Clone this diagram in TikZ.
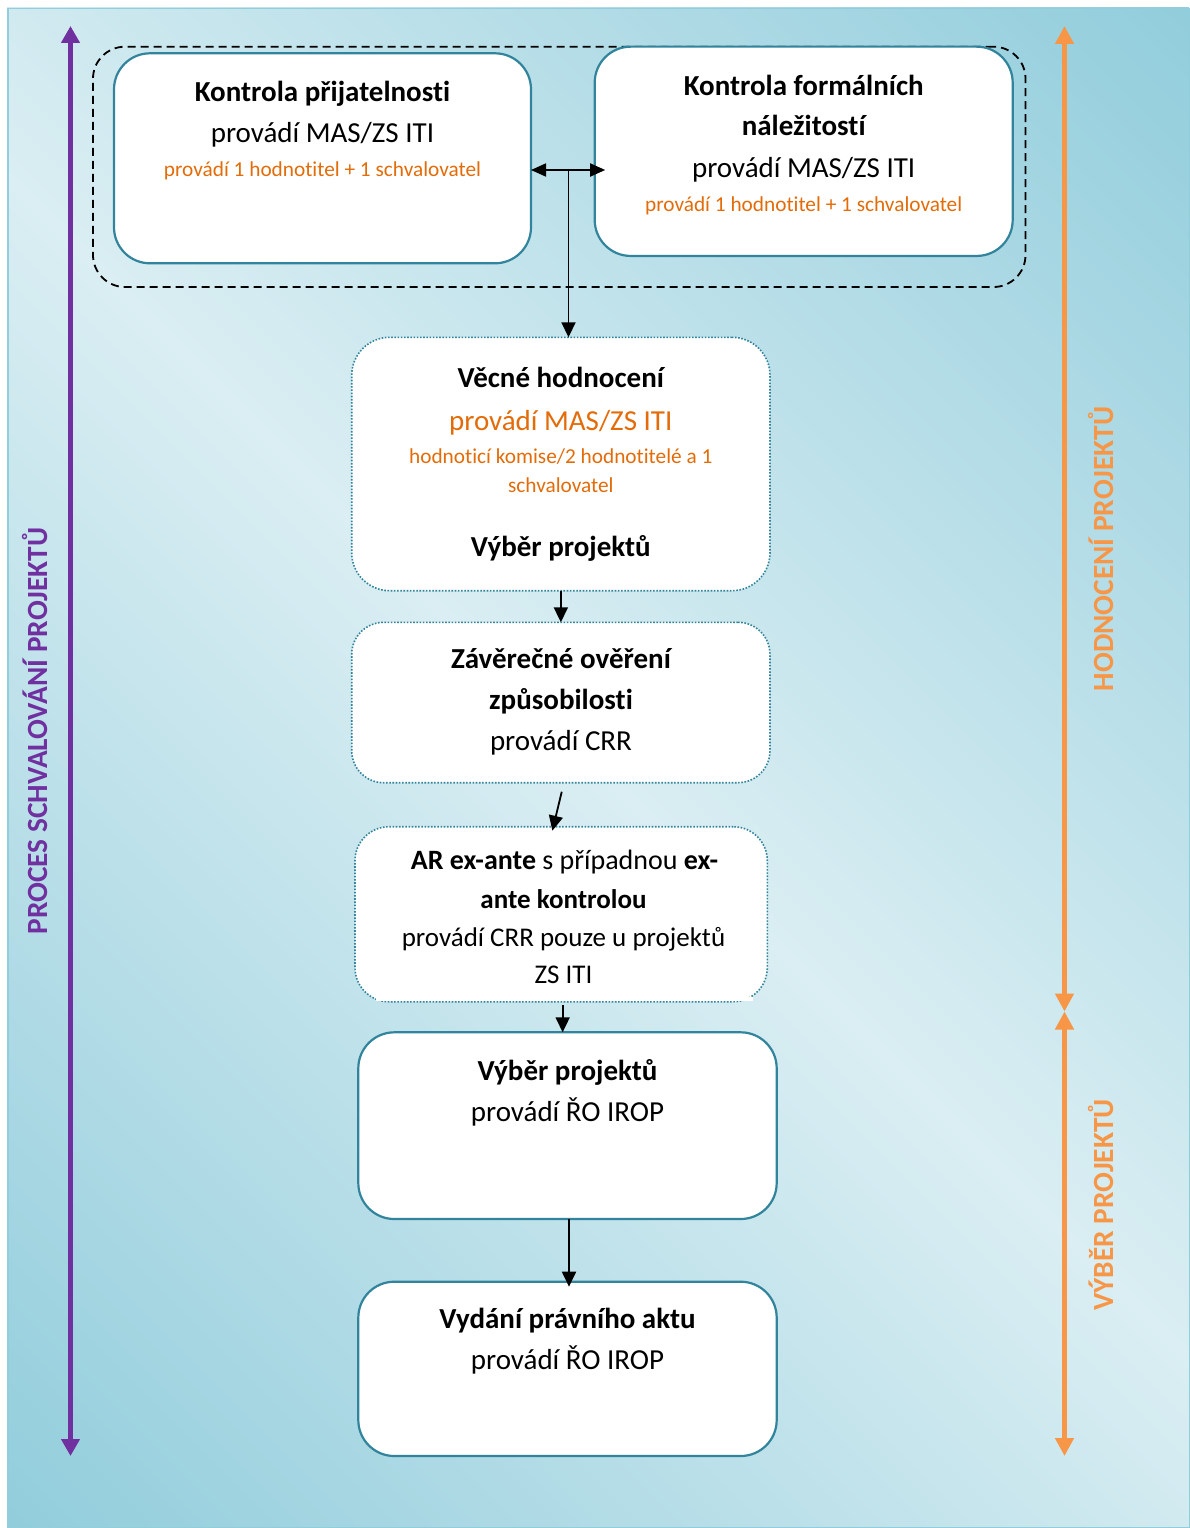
\documentclass[tikz,border=0pt]{standalone}
\usepackage{fontspec}
\setmainfont{Carlito}[Ligatures={NoCommon,NoRequired,NoContextual}]
\usetikzlibrary{arrows.meta,calc}
\definecolor{bglight}{HTML}{DAEEF3}
\definecolor{bgdark}{HTML}{92CDDC}
\definecolor{tealb}{HTML}{31849B}
\definecolor{orgtext}{HTML}{E36C09}
\definecolor{orgarrow}{HTML}{F79646}
\definecolor{purp}{HTML}{7030A0}
\pgfdeclarehorizontalshading{bgshade}{100bp}{color(0bp)=(bgdark); color(14.6bp)=(bgdark); color(50bp)=(bglight); color(85.4bp)=(bgdark); color(100bp)=(bgdark)}
\begin{document}
\begin{tikzpicture}[x=1pt,y=-1pt,
  solidbox/.style={draw=tealb, line width=2.2pt, fill=white, rounded corners=36pt, inner sep=0pt, outer sep=0pt},
  dotbox/.style={draw=tealb, line width=1.6pt, dash pattern=on 1.6pt off 1.6pt, fill=white, rounded corners=38pt, inner sep=0pt, outer sep=0pt},
  groupbox/.style={draw=black, line width=1.8pt, dash pattern=on 8pt off 5pt, rounded corners=32pt, inner sep=0pt, outer sep=0pt},
  txt/.style={anchor=base, inner sep=0pt, font=\fontsize{29}{35}\selectfont},
  btxt/.style={anchor=base, inner sep=0pt, font=\fontsize{29}{35}\selectfont\bfseries},
  artxt/.style={anchor=base, inner sep=0pt, font=\fontsize{27}{33}\selectfont},
  otxt/.style={anchor=base, inner sep=0pt, text=orgtext, font=\fontsize{29}{35}\selectfont},
  stxt/.style={anchor=base, inner sep=0pt, text=orgtext, font=\fontsize{21.3}{26}\selectfont},
  conn/.style={draw=black, line width=1.8pt, -{Triangle[width=14pt,length=15pt]}},
  sidelabel/.style={rotate=90, anchor=base, inner sep=0pt, font=\fontsize{29.3}{35}\selectfont\bfseries}
]
\useasboundingbox (0,0) rectangle (1189,1528);
\fill[white] (0,0) rectangle (1189,1528);
\shade[shading=bgshade, shading angle=45] (7,8) rectangle (1189,1528);
\draw[bgdark, line width=1.5pt] (7.75,8.75) rectangle (1190,1527.25);

% side arrows
\coordinate (pt) at (70.5,26);
\coordinate (pb) at (70.5,1456);
\draw[purp, line width=5pt, {Triangle[width=18pt,length=17pt]}-{Triangle[width=18pt,length=17pt]}] (pt) -- (pb);
\coordinate (ot) at (1064.5,26);
\coordinate (om) at (1064.5,1011.5);
\coordinate (ob) at (1064.5,1456);
\draw[orgarrow, line width=5.5pt, {Triangle[width=18pt,length=18pt]}-{Triangle[width=18pt,length=18pt]}] (ot) -- (om);
\draw[orgarrow, line width=5.5pt, {Triangle[width=18pt,length=18pt]}-{Triangle[width=18pt,length=18pt]}] (om) -- (ob);

\node[sidelabel, text=purp] (Lp) at (47,731) {PROCES SCHVALOVÁNÍ PROJEKTŮ};
\node[sidelabel, text=orgarrow] (Lh) at (1113,549) {HODNOCENÍ PROJEKTŮ};
\node[sidelabel, text=orgarrow] (Lv) at (1113,1205) {VÝBĚR PROJEKTŮ};

% group
\node[groupbox, minimum width=932.5pt, minimum height=240.3pt] (G) at (559.25,166.85) {};

% boxes
\node[solidbox, minimum width=417pt, minimum height=210pt] (A) at (322.5,158.3) {};
\node[solidbox, minimum width=418pt, minimum height=209.3pt] (B) at (803.7,151.3) {};
\node[dotbox, minimum width=418.3pt, minimum height=253.4pt] (V) at (560.85,464) {};
\node[dotbox, minimum width=418.3pt, minimum height=160.4pt, rounded corners=32pt] (Z) at (560.85,702.5) {};
\node[dotbox, minimum width=412.3pt, minimum height=175pt, rounded corners=34pt] (AR) at (561.15,914.2) {};
\fill[white] (376,996.5) rectangle (753,1001.2);
\node[solidbox, minimum width=418.4pt, minimum height=186.7pt] (VB) at (567.5,1125.65) {};
\node[solidbox, minimum width=418.4pt, minimum height=174.3pt] (VD) at (567.5,1368.85) {};

% texts
\node[btxt] (a1) at (322.5,101.7) {Kontrola přijatelnosti};
\node[txt]  (a2) at (322.5,142.7) {provádí MAS/ZS ITI};
\node[stxt] (a3) at (322.5,176.7) {provádí 1 hodnotitel + 1 schvalovatel};

\node[btxt] (b1) at (803.7,95) {Kontrola formálních};
\node[btxt] (b2) at (803.7,135) {náležitostí};
\node[txt]  (b3) at (803.7,177.7) {provádí MAS/ZS ITI};
\node[stxt] (b4) at (803.7,211.7) {provádí 1 hodnotitel + 1 schvalovatel};

\node[btxt] (v1) at (560.8,387.7) {Věcné hodnocení};
\node[otxt] (v2) at (560.8,430) {provádí MAS/ZS ITI};
\node[stxt] (v3) at (560.8,463.3) {hodnoticí komise/2 hodnotitelé a 1};
\node[stxt] (v4) at (560.8,492.7) {schvalovatel};
\node[btxt] (v5) at (560.8,556.7) {Výběr projektů};

\node[btxt] (z1) at (561,668.3) {Závěrečné ověření};
\node[btxt] (z2) at (561,709.3) {způsobilosti};
\node[txt]  (z3) at (561,750) {provádí CRR};

\node[artxt, font=\fontsize{28}{33}\selectfont] (r1) at (564.5,869.3) {\textbf{AR ex-ante} s případnou \textbf{ex-}};
\node[artxt, font=\fontsize{27}{33}\selectfont\bfseries] (r2) at (563.5,908.3) {ante kontrolou};
\node[artxt] (r3) at (563.5,946.7) {provádí CRR pouze u projektů};
\node[artxt] (r4) at (563.5,983.3) {ZS ITI};

\node[btxt] (s1) at (567.5,1080) {Výběr projektů};
\node[txt]  (s2) at (567.5,1121) {provádí ŘO IROP};

\node[btxt] (d1) at (567.5,1328.3) {Vydání právního aktu};
\node[txt]  (d2) at (567.5,1369.3) {provádí ŘO IROP};

% connectors
\coordinate (j) at (568.5,170);
\draw[black, line width=1.8pt, -{Triangle[width=13pt,length=15pt]}] (j) -- (j -| A.east);
\draw[black, line width=1.8pt, -{Triangle[width=13pt,length=15pt]}] (j) -- ($(j -| B.west)+(10.5,0)$);
\draw[conn] (j) -- (j |- V.north);
\draw[conn] (V.south) -- (Z.north);
\draw[conn] ($(Z.south)+(0.9,9)$) -- ($(AR.north)+(-8.8,4)$);
\draw[conn] ($(AR.south)+(1.5,3.3)$) -- ($(AR.south |- VB.north)+(1.5,0)$);
\draw[conn] ($(VB.south)+(1.5,0)$) -- ($(VD.north)+(1.5,5)$);
\end{tikzpicture}
\end{document}
